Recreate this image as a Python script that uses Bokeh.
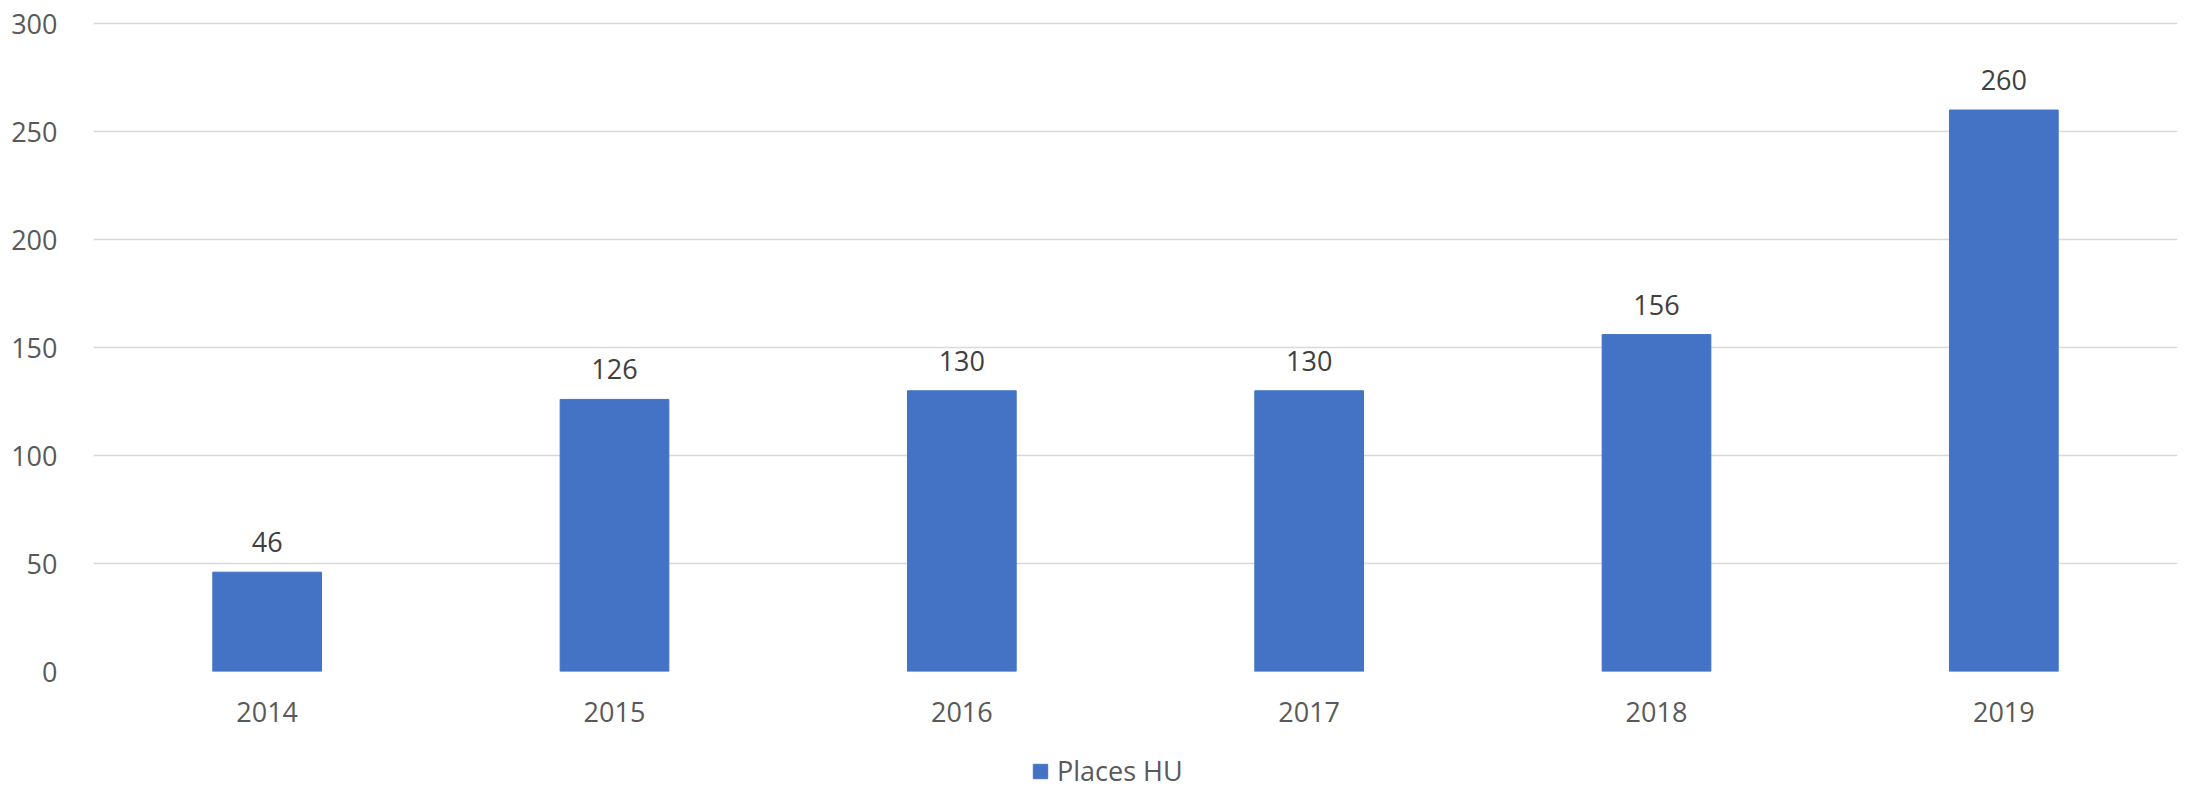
from bokeh.plotting import figure
from bokeh.layouts import column
from bokeh.models import ColumnDataSource, LabelSet, Legend, LegendItem, FactorRange, Range1d, SingleIntervalTicker
from bokeh.core.properties import value
from bokeh.embed import file_html
from bokeh.resources import INLINE

years = ["2014", "2015", "2016", "2017", "2018", "2019"]
places_hu = [46, 126, 130, 130, 156, 260]
series_name = "Places HU"

FONT = "Open Sans"
BAR = "#4472C4"
src = ColumnDataSource(data=dict(year=years, value=places_hu, label=[str(v) for v in places_hu]))

p = figure(x_range=FactorRange(*years), y_range=Range1d(0, 301),
           width=2185, height=745, output_backend="svg", toolbar_location=None,
           min_border_left=93, min_border_right=8, min_border_top=21, min_border_bottom=74)
p.outline_line_color = None
p.background_fill_color = "white"

r = p.vbar(x="year", top="value", width=0.313, source=src, fill_color=BAR, line_color=BAR)

labels = LabelSet(x="year", y="value", text="label", source=src, text_align="center",
                  text_baseline="bottom", y_offset=20, text_font=value(FONT),
                  text_font_size="27px", text_color="#404040")
p.add_layout(labels)

p.yaxis.ticker = SingleIntervalTicker(interval=50)
p.ygrid.ticker = SingleIntervalTicker(interval=50)
p.ygrid.grid_line_color = "#D9D9D9"
p.ygrid.grid_line_width = 1.5
p.xgrid.grid_line_color = None

for ax in (p.xaxis, p.yaxis):
    ax.axis_line_color = None
    ax.major_tick_line_color = None
    ax.minor_tick_line_color = None
    ax.major_label_text_font = FONT
    ax.major_label_text_font_size = "27px"
    ax.major_label_text_color = "#595959"
p.yaxis.major_label_standoff = 30
p.xaxis.major_label_standoff = 24

# legend strip below the chart (same borders as the chart so frames stay aligned)
pl = figure(x_range=FactorRange(*years), y_range=Range1d(0, 301),
            width=2185, height=44, output_backend="svg", toolbar_location=None,
            min_border_left=93, min_border_right=8, min_border_top=8, min_border_bottom=0)
pl.axis.visible = False
pl.grid.visible = False
pl.outline_line_color = None
rl = pl.vbar(x="year", top="value", width=0.313, source=src, fill_color=BAR, line_color=BAR, visible=False)

legend = Legend(items=[LegendItem(label=series_name, renderers=[rl])], orientation="horizontal",
                location=(938, 0), border_line_color=None, background_fill_alpha=0,
                label_text_font=FONT, label_text_font_size="27px", label_text_color="#595959",
                glyph_width=18, glyph_height=18, label_standoff=8, padding=0, margin=0, spacing=0)
pl.add_layout(legend)

layout = column(p, pl, spacing=0)
open("out.html", "w").write(file_html(layout, INLINE))
